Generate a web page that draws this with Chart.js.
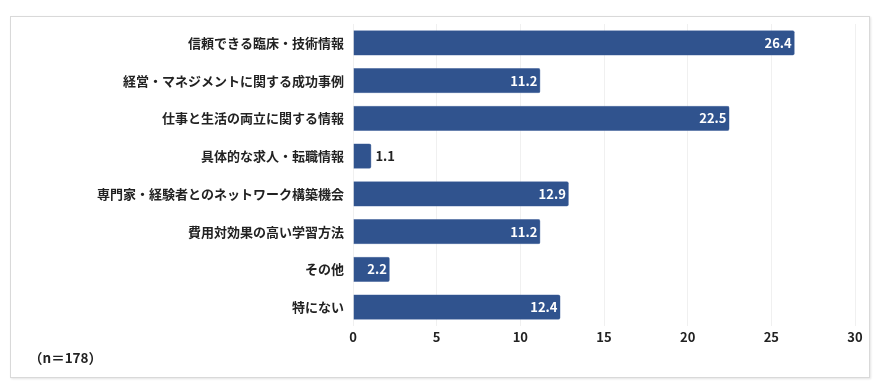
<!DOCTYPE html>
<html>
<head>
<meta charset="utf-8">
<script src="https://cdn.jsdelivr.net/npm/chart.js@4/dist/chart.umd.min.js"></script>
<style>
  body { margin: 0; background: #fff; }
  #box { position: absolute; left: 10px; top: 16px; width: 858px; height: 360px; border: 1px solid #d9d9d9; box-shadow: 1px 1px 2px #e4e4e4; }
  #wrap { position: absolute; left: 0; top: 0; width: 879px; height: 386px; }
  #note { position: absolute; left: 29px; top: 347px; font: bold 13.5px "Noto Sans CJK JP"; color: #222; }
</style>
</head>
<body>
<div id="box"></div>
<div id="wrap"><canvas id="chart"></canvas></div>
<div id="note">（n＝178）</div>
<script>
// カテゴリとデータ
var categories = ['信頼できる臨床・技術情報', '経営・マネジメントに関する成功事例', '仕事と生活の両立に関する情報', '具体的な求人・転職情報', '専門家・経験者とのネットワーク構築機会', '費用対効果の高い学習方法', 'その他', '特にない'];
var values = [26.4, 11.2, 22.5, 1.1, 12.9, 11.2, 2.2, 12.4];
var xTicks = [0, 5, 10, 15, 20, 25, 30];

// バーの値を表示するプラグイン
var valueLabels = {
    id: 'valueLabels',
    afterDatasetsDraw(chart) {
        var ctx = chart.ctx;
        var meta = chart.getDatasetMeta(0);
        ctx.save();
        ctx.font = 'bold 13px "Noto Sans CJK JP"';
        ctx.textBaseline = 'middle';
        meta.data.forEach((bar, i) => {
            var text = values[i].toFixed(1);
            var w = ctx.measureText(text).width;
            if (bar.x - bar.base > w + 8) {
                ctx.fillStyle = '#ffffff';
                ctx.textAlign = 'right';
                ctx.fillText(text, bar.x - 3, bar.y);
            } else {
                ctx.fillStyle = '#222222';
                ctx.textAlign = 'left';
                ctx.fillText(text, bar.x + 4, bar.y);
            }
        });
        ctx.restore();
    }
};

var ctx = document.getElementById('chart').getContext('2d');
var chart = new Chart(ctx, {
    type: 'bar',
    data: {
        labels: categories,
        datasets: [{
            data: values,
            backgroundColor: '#30538e',
            borderColor: '#4a6aa3',
            borderWidth: 0.5,
            borderRadius: 2,
            borderSkipped: 'start',
            categoryPercentage: 1,
            barPercentage: 0.67
        }]
    },
    options: {
        indexAxis: 'y',
        responsive: true,
        maintainAspectRatio: false,
        animation: false,
        layout: { padding: { top: 24, right: 24, left: 0, bottom: 0 } },
        plugins: {
            legend: { display: false },
            tooltip: { enabled: false }
        },
        scales: {
            x: {
                min: 0,
                max: 30,
                afterBuildTicks: (axis) => { axis.ticks = xTicks.map(v => ({ value: v })); },
                afterFit: (axis) => { axis.height = 60; },
                grid: { color: '#f0f0f0', drawTicks: false },
                border: { display: false },
                ticks: { color: '#222', padding: 3, font: { family: '"Noto Sans CJK JP"', size: 13, weight: 'bold' } }
            },
            y: {
                afterFit: (axis) => { axis.width = 353; },
                grid: { display: false, drawTicks: false },
                border: { display: false },
                ticks: { color: '#222', padding: 9, font: { family: '"Noto Sans CJK JP"', size: 13, weight: 'bold' } }
            }
        }
    },
    plugins: [valueLabels]
});
</script>
</body>
</html>
